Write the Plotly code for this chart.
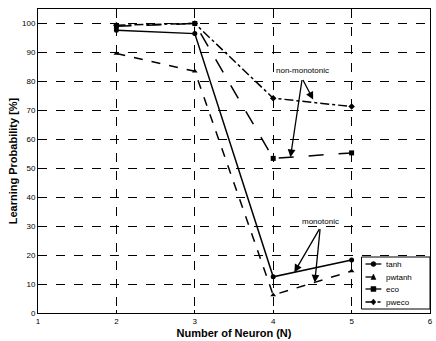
import plotly.graph_objects as go

neurons = [2, 3, 4, 5]
tanh = [97.7, 96.5, 12.5, 18.3]
pwtanh = [89.6, 83.5, 6.2, 14.5]
eco = [99.0, 100.0, 53.4, 55.3]
pweco = [99.4, 100.0, 74.2, 71.3]

x_ticks = [1, 2, 3, 4, 5, 6]
y_ticks = [0, 10, 20, 30, 40, 50, 60, 70, 80, 90, 100]

series = [
    ("tanh", tanh, "solid", "circle"),
    ("pwtanh", pwtanh, "dash", "triangle-up"),
    ("eco", eco, "longdash", "square"),
    ("pweco", pweco, "dashdot", "diamond"),
]

W, H = 436, 341
ML, MR, MT, MB = 38, 3, 9, 28
PW, PH = W - ML - MR, H - MT - MB

def px(xp):
    return (xp - ML) / PW

def py(yp):
    return (H - MB - yp) / PH

fig = go.Figure()
for name, vals, dash, sym in series:
    fig.add_trace(go.Scatter(
        x=neurons, y=vals, name=name, mode="lines+markers",
        line=dict(color="black", width=1.5, dash=dash),
        marker=dict(symbol=sym, size=5, color="black"),
        showlegend=False,
    ))

font_family = "Liberation Sans, Arial, sans-serif"

# annotation texts
fig.add_annotation(x=4.37, y=81.5, text="non-monotonic", showarrow=False,
                   yanchor="bottom", font=dict(size=8, color="black", family=font_family))
fig.add_annotation(x=4.6, y=29.5, text="monotonic", showarrow=False,
                   yanchor="bottom", font=dict(size=8, color="black", family=font_family))

arrows = [
    (4.37, 81, 4.51, 73.7),
    (4.37, 81, 4.22, 53.8),
    (4.6, 29.5, 4.27, 14.1),
    (4.6, 29.5, 4.53, 10.5),
]
for ax_, ay_, x_, y_ in arrows:
    fig.add_annotation(x=x_, y=y_, ax=ax_, ay=ay_, axref="x", ayref="y",
                       xref="x", yref="y", text="", showarrow=True,
                       arrowhead=2, arrowsize=1.2, arrowwidth=1.3, arrowcolor="black")

# manual compact legend (MATLAB style)
shapes = []
shapes.append(dict(type="rect", xref="paper", yref="paper",
                   x0=px(364), x1=px(433), y0=py(309), y1=py(257),
                   line=dict(color="black", width=1), fillcolor="white", layer="above"))
entry_y = [264, 277, 289, 302]
r = 2.5
for (name, vals, dash, sym), ey in zip(series, entry_y):
    shapes.append(dict(type="line", xref="paper", yref="paper",
                       x0=px(368), x1=px(384), y0=py(ey), y1=py(ey),
                       line=dict(color="black", width=1.3, dash=dash if dash != "longdash" else "solid"),
                       layer="above"))
    cx = 376
    if sym == "circle":
        shapes.append(dict(type="circle", xref="paper", yref="paper",
                           x0=px(cx - r), x1=px(cx + r), y0=py(ey + r), y1=py(ey - r),
                           fillcolor="black", line=dict(color="black", width=0.5), layer="above"))
    elif sym == "square":
        shapes.append(dict(type="rect", xref="paper", yref="paper",
                           x0=px(cx - r), x1=px(cx + r), y0=py(ey + r), y1=py(ey - r),
                           fillcolor="black", line=dict(color="black", width=0.5), layer="above"))
    elif sym == "triangle-up":
        path = (f"M {px(cx - r)} {py(ey + r)} L {px(cx + r)} {py(ey + r)} "
                f"L {px(cx)} {py(ey - r - 0.5)} Z")
        shapes.append(dict(type="path", xref="paper", yref="paper", path=path,
                           fillcolor="black", line=dict(color="black", width=0.5), layer="above"))
    else:
        path = (f"M {px(cx - r)} {py(ey)} L {px(cx)} {py(ey - r - 0.5)} "
                f"L {px(cx + r)} {py(ey)} L {px(cx)} {py(ey + r + 0.5)} Z")
        shapes.append(dict(type="path", xref="paper", yref="paper", path=path,
                           fillcolor="black", line=dict(color="black", width=0.5), layer="above"))
    fig.add_annotation(xref="paper", yref="paper", x=px(387), y=py(ey),
                       text=name, showarrow=False, xanchor="left", yanchor="middle",
                       font=dict(size=8, color="black", family=font_family))

fig.update_layout(
    width=W, height=H,
    margin=dict(l=ML, r=MR, t=MT, b=MB),
    paper_bgcolor="white", plot_bgcolor="white",
    font=dict(family=font_family, color="black", size=8),
    showlegend=False,
    shapes=shapes,
    xaxis=dict(range=[1, 6], tickvals=x_ticks, showgrid=True,
               gridcolor="black", griddash="dash", gridwidth=0.8,
               showline=True, linecolor="black", linewidth=1, mirror=True,
               ticks="inside", ticklen=3, tickcolor="black",
               zeroline=False,
               tickfont=dict(size=8, family=font_family),
               title=dict(text="<b>Number of Neuron (N)</b>",
                          font=dict(size=11, family=font_family), standoff=4)),
    yaxis=dict(range=[0, 105], tickvals=y_ticks, showgrid=True,
               gridcolor="black", griddash="dash", gridwidth=0.8,
               showline=True, linecolor="black", linewidth=1, mirror=True,
               ticks="inside", ticklen=3, tickcolor="black",
               zeroline=False,
               tickfont=dict(size=8, family=font_family),
               title=dict(text="<b>Learning Probability [%]</b>",
                          font=dict(size=11, family=font_family), standoff=2)),
)

fig.write_html("out.html")
